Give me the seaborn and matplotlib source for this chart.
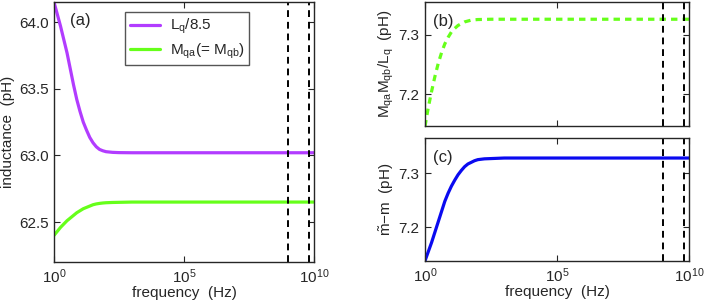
import numpy as np
import pandas as pd
import matplotlib
matplotlib.use("Agg")
import matplotlib.pyplot as plt
import seaborn as sns

# data (log10 of frequency in Hz)
log_f = [0, 0.125, 0.25, 0.375, 0.5, 0.625, 0.75, 0.875, 1.0, 1.125, 1.25,
         1.375, 1.5, 1.625, 1.75, 1.875, 2.0, 2.25, 2.5, 3, 4, 5, 6, 8, 10]
Lq_85 = [64.15, 64.06, 63.97, 63.87, 63.77, 63.65, 63.53, 63.42, 63.33, 63.25,
         63.19, 63.135, 63.095, 63.065, 63.045, 63.035, 63.028, 63.023, 63.021,
         63.02, 63.02, 63.02, 63.02, 63.02, 63.02]
Mqa = [62.40, 62.43, 62.46, 62.485, 62.51, 62.53, 62.55, 62.57, 62.585, 62.60,
       62.61, 62.62, 62.63, 62.636, 62.64, 62.643, 62.645, 62.647, 62.648,
       62.65, 62.65, 62.65, 62.65, 62.65, 62.65]
MM_Lq = [7.146, 7.178, 7.205, 7.23, 7.252, 7.27, 7.285, 7.296, 7.305, 7.311,
         7.316, 7.319, 7.322, 7.3235, 7.325, 7.3255, 7.326, 7.3262, 7.3265,
         7.3265, 7.3265, 7.3265, 7.3265, 7.3265, 7.3265]
m_diff = [7.138, 7.155, 7.172, 7.191, 7.21, 7.229, 7.248, 7.263, 7.276, 7.287,
          7.297, 7.305, 7.312, 7.317, 7.32, 7.323, 7.325, 7.3265, 7.327,
          7.328, 7.328, 7.328, 7.328, 7.328, 7.328]
marks_log_f = [9.0, 9.8]

df = pd.DataFrame({"f": 10.0 ** np.array(log_f), "Lq": Lq_85, "Mqa": Mqa,
                   "MM": MM_Lq, "dm": m_diff})

sns.set_style("ticks")
plt.rcParams["font.family"] = ["Liberation Sans", "DejaVu Sans"]
plt.rcParams["mathtext.fontset"] = "custom"
plt.rcParams["mathtext.rm"] = "Liberation Sans"
plt.rcParams["mathtext.it"] = "Liberation Sans"
plt.rcParams["font.size"] = 11

purple = "#B23CFF"
green = "#66FF1A"
blue = "#0A0AF0"

fig = plt.figure(figsize=(7.06, 3.04), dpi=100)
ax_a = fig.add_axes([0.0765, 0.138, 0.3683, 0.855])
ax_b = fig.add_axes([0.602, 0.5855, 0.374, 0.408])
ax_c = fig.add_axes([0.602, 0.1414, 0.374, 0.4046])

sns.lineplot(data=df, x="f", y="Lq", ax=ax_a, color=purple, lw=2.3,
             label=r"L$_\mathrm{q}$/8.5")
sns.lineplot(data=df, x="f", y="Mqa", ax=ax_a, color=green, lw=2.3,
             label=r"M$_\mathrm{qa}$(= M$_\mathrm{qb}$)")
sns.lineplot(data=df, x="f", y="MM", ax=ax_b, color=green, lw=2.3,
             linestyle=(0, (2, 1.6)))
sns.lineplot(data=df, x="f", y="dm", ax=ax_c, color=blue, lw=2.3)

for ax in (ax_a, ax_b, ax_c):
    ax.set_xscale("log")
    ax.set_xlim(1, 1e10)
    ax.set_xticks([1, 1e5, 1e10])
    ax.xaxis.set_minor_locator(matplotlib.ticker.NullLocator())
    for v in marks_log_f:
        ax.axvline(10 ** v, color="black", ls="--", lw=1.4, dashes=(3.5, 2.5))
    ax.tick_params(direction="in", top=True, right=True, length=4, width=0.8,
                   labelsize=11, pad=4)
    for s in ax.spines.values():
        s.set_linewidth(1.0)
        s.set_visible(True)
    ax.set_xlabel("")
    ax.set_ylabel("")

ax_a.set_ylim(62.2, 64.15)
ax_a.set_yticks([62.5, 63.0, 63.5, 64.0])
ax_a.set_yticklabels(["62.5", "63.0", "63.5", "64.0"])
ax_a.set_xlabel("frequency  (Hz)", labelpad=0)
ax_a.set_ylabel("inductance  (pH)", labelpad=3)
ax_a.text(0.06, 0.96, "(a)", transform=ax_a.transAxes, fontsize=12, va="top")
ax_a.legend(loc="upper left", bbox_to_anchor=(0.245, 0.99), frameon=True,
            fancybox=False, edgecolor="#555555", framealpha=1, handlelength=2.0,
            fontsize=11, borderpad=0.3, labelspacing=0.35, handletextpad=0.6)

ax_b.set_ylim(7.1465, 7.3556)
ax_b.set_yticks([7.2, 7.3])
ax_b.set_xticklabels([])
ax_b.set_ylabel(r"M$_\mathrm{qa}$M$_\mathrm{qb}$/L$_\mathrm{q}$  (pH)", labelpad=2)
ax_b.text(0.03, 0.9, "(b)", transform=ax_b.transAxes, fontsize=12, va="top")

ax_c.set_ylim(7.1376, 7.365)
ax_c.set_yticks([7.2, 7.3])
ax_c.set_xlabel("frequency  (Hz)", labelpad=0)
ax_c.set_ylabel(r"$\tilde{\mathrm{m}}$$-$m  (pH)", labelpad=2)
ax_c.text(0.03, 0.9, "(c)", transform=ax_c.transAxes, fontsize=12, va="top")

fig.savefig("out.png", dpi=100)
